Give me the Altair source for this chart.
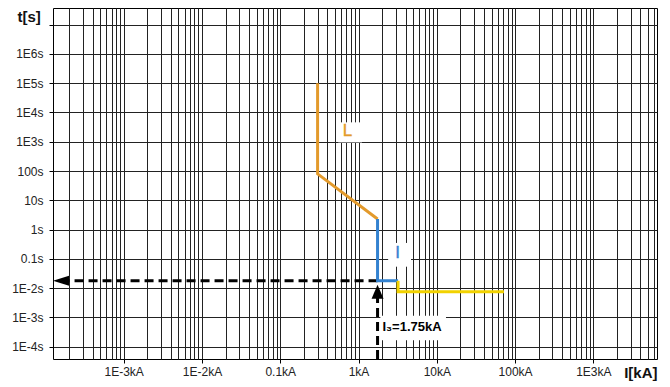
import altair as alt
import pandas as pd

# ---------------- data ----------------
X_DOMAIN = [1.25e-4, 6.5e3]
Y_DOMAIN = [3.8e-5, 3.7e7]

x_label_exps = [-3, -2, -1, 0, 1, 2, 3]
x_label_texts = ["1E-3kA", "1E-2kA", "0.1kA", "1kA", "10kA", "100kA", "1E3kA"]
y_label_exps = [-4, -3, -2, -1, 0, 1, 2, 3, 4, 5, 6, 7]
y_label_texts = ["1E-4s", "1E-3s", "1E-2s", "0.1s", "1s", "10s", "100s",
                 "1E3s", "1E4s", "1E5s", "1E6s", ""]

# L curve (long-time), I curve (instantaneous), yellow tail
L_I = [0.3, 0.3, 1.75]
L_t = [1e5, 80, 2.3]
I_I = [1.75, 1.75, 3.2]
I_t = [2.3, 0.018, 0.018]
S_I = [3.2, 3.2, 72]
S_t = [0.018, 0.0075, 0.0075]

# dashed arrows
AH_I = [1.75, 1.8e-4]
AH_t = [0.018, 0.018]
AV_I = [1.75, 1.75]
AV_t = [Y_DOMAIN[0], 0.009]
HEAD_I = [X_DOMAIN[0], 1.75]
HEAD_t = [0.018, 0.013]

# labels
LBL_text = ["L", "I", "I\u2083=1.75kA"]
LBL_I = [0.72, 3.15, 2.02]
LBL_t = [2260, 0.154, 4.6e-4]
BOX_I1 = [0.55, 2.39, 1.9]
BOX_I2 = [1.11, 4.68, 13.1]
BOX_t1 = [950, 0.054, 1.67e-4]
BOX_t2 = [4600, 0.35, 1.14e-3]

ORANGE = "#E39A2B"
BLUE = "#3382D0"
YELLOW = "#F2D200"
GRID = "#222222"
FONT = "Liberation Sans"

# ---------------- axes ----------------
x_grid = [float(f"{m}e{n}") for n in range(-4, 4) for m in range(1, 10)]
x_grid = [v for v in x_grid if X_DOMAIN[0] <= v <= X_DOMAIN[1]]
y_grid = [float(f"1e{n}") for n in y_label_exps]

EXP = "round(log(datum.value)/LN10)"
IS_DEC = f"abs(log(datum.value)/LN10 - {EXP}) < 0.001"


def chain(exps, texts):
    s = "''"
    for e, t in reversed(list(zip(exps, texts))):
        s = f"({EXP}=={e} ? '{t}' : {s})"
    return s


x_label_expr = f"({IS_DEC}) ? {chain(x_label_exps, x_label_texts)} : ''"
y_label_expr = chain(y_label_exps, y_label_texts)

x_axis = alt.Axis(
    values=x_grid, grid=True, gridColor=GRID, gridOpacity=1, gridWidth=1,
    domain=False, tickColor="black", tickSize=4, tickWidth=1,
    tickOpacity={"condition": {"test": IS_DEC, "value": 1}, "value": 0},
    labelExpr=x_label_expr, labelFont=FONT, labelFontSize=12, labelColor="#222",
    labelPadding=3, labelOverlap=False, labelFlush=False,
    title="I[kA]", titleFont=FONT, titleFontSize=15, titleFontWeight="bold",
    titleColor="#111", titleAnchor="end", titleAlign="right", titleBaseline="middle",
    titleX=604, titleY=13,
)
y_axis = alt.Axis(
    values=y_grid, grid=True, gridColor=GRID, gridOpacity=1, gridWidth=1,
    domain=False, tickColor="black", tickSize=4, tickWidth=1,
    labelExpr=y_label_expr, labelFont=FONT, labelFontSize=12, labelColor="#222",
    labelPadding=6, labelOverlap=False, labelFlush=False,
    title="t[s]", titleFont=FONT, titleFontSize=15, titleFontWeight="bold",
    titleColor="#111", titleAngle=0, titleAlign="left", titleBaseline="middle",
    titleX=-36, titleY=8,
)

xs = alt.Scale(type="log", domain=X_DOMAIN, nice=False)
ys = alt.Scale(type="log", domain=Y_DOMAIN, nice=False)


def X(f="I"):
    return alt.X(f"{f}:Q", scale=xs, axis=x_axis)


def Y(f="t"):
    return alt.Y(f"{f}:Q", scale=ys, axis=y_axis)


def curve_df(Is, ts):
    return pd.DataFrame({"I": Is, "t": ts, "o": list(range(len(Is)))})


boxes = alt.Chart(pd.DataFrame({"I": BOX_I1, "I2": BOX_I2, "t": BOX_t1, "t2": BOX_t2})).mark_rect(
    color="white", opacity=1).encode(x=X(), x2="I2:Q", y=Y(), y2="t2:Q")


def line(Is, ts, color, dash=None):
    kw = dict(color=color, strokeWidth=3, strokeCap="butt", strokeJoin="miter")
    if dash:
        kw["strokeDash"] = dash
    return alt.Chart(curve_df(Is, ts)).mark_line(**kw).encode(
        x=X(), y=Y(), order=alt.Order("o:Q"))


dash_h = line(AH_I, AH_t, "black", [9, 5])
dash_v = line(AV_I, AV_t, "black", [9, 5])
l_line = line(L_I, L_t, ORANGE)
i_line = line(I_I, I_t, BLUE)
s_line = line(S_I, S_t, YELLOW)

head_df = pd.DataFrame({"I": HEAD_I, "t": HEAD_t,
                        "shape": ["M0,0L2,-0.625L2,0.625Z", "M0,0L0.857,2L-0.857,2Z"],
                        "size": [256, 196]})
heads = alt.Chart(head_df).mark_point(filled=True, color="black", opacity=1, strokeWidth=0).encode(
    x=X(), y=Y(),
    shape=alt.Shape("shape:N", scale=None),
    size=alt.Size("size:Q", scale=None),
)

lbl_df = pd.DataFrame({"I": LBL_I, "t": LBL_t, "txt": LBL_text})
lbl_L = alt.Chart(lbl_df.iloc[[0]]).mark_text(font=FONT, fontSize=17, color=ORANGE,
                                              align="center", baseline="middle",
                                              stroke=ORANGE, strokeWidth=0.4).encode(
    x=X(), y=Y(), text="txt:N")
lbl_I = alt.Chart(lbl_df.iloc[[1]]).mark_text(font=FONT, fontSize=17, color=BLUE,
                                              align="center", baseline="middle",
                                              stroke=BLUE, strokeWidth=0.4).encode(
    x=X(), y=Y(), text="txt:N")
lbl_I3 = alt.Chart(lbl_df.iloc[[2]]).mark_text(font=FONT, fontSize=13, fontWeight="bold",
                                               color="black", align="left", baseline="middle").encode(
    x=X(), y=Y(), text="txt:N")

chart = alt.layer(
    boxes, dash_h, dash_v, l_line, i_line, s_line, heads, lbl_L, lbl_I, lbl_I3
).properties(
    width=604, height=351,
    autosize=alt.AutoSizeParams(type="none"),
    padding={"left": 45, "top": 0, "right": 5, "bottom": 25},
    background="white",
).configure_view(stroke="black", strokeWidth=1)

chart.save("out.html", embed_options={"renderer": "svg", "actions": False})
